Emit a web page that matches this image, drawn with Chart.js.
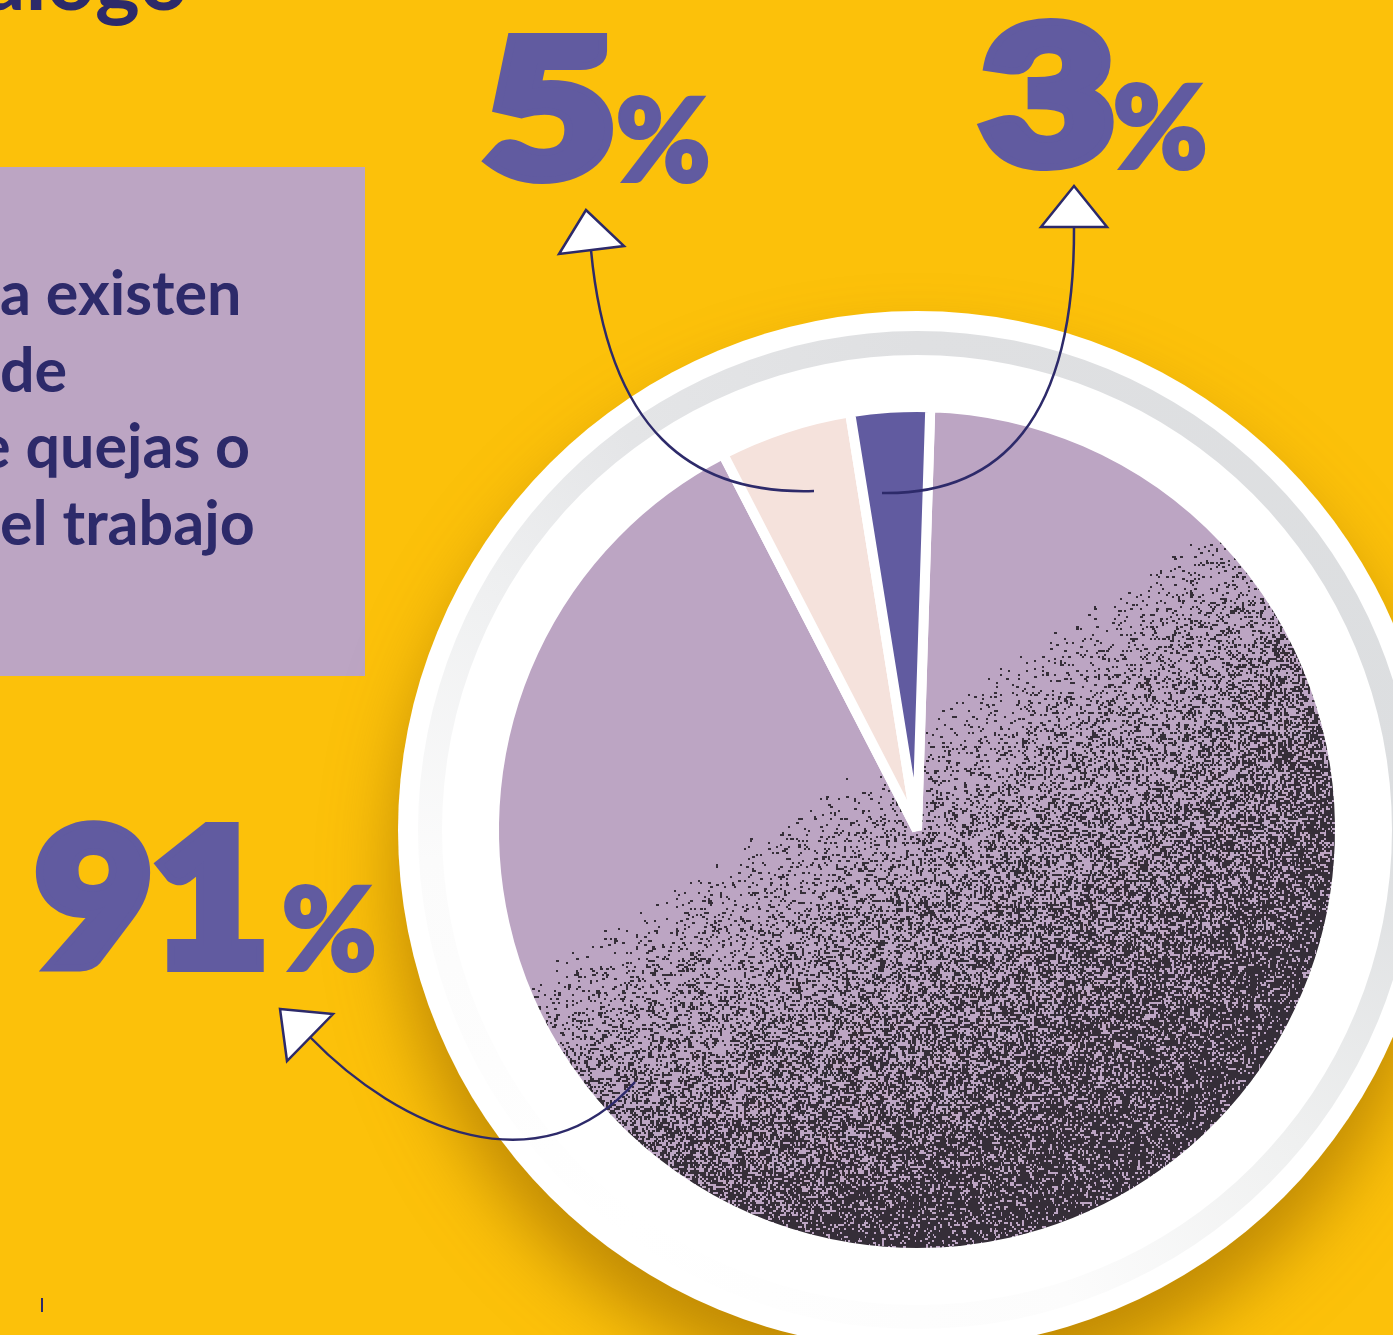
<!DOCTYPE html>
<html lang="es">
<head>
<meta charset="UTF-8">
<title>Mecanismos de quejas en el trabajo</title>
<style>
  html, body { margin: 0; padding: 0; }
  body {
    width: 1393px;
    height: 1335px;
    overflow: hidden;
    position: relative;
    background: #fcc10a;
    font-family: Lato, "Open Sans", sans-serif;
  }
  .caja {
    position: absolute;
    left: 0;
    top: 167px;
    width: 365px;
    height: 509px;
    background: #bca5c3;
  }
  #grafico, #textos {
    position: absolute;
    left: 0;
    top: 0;
  }
  #textos { pointer-events: none; }
  .titulo { font: 700 85px Lato, sans-serif; fill: #2d2a6a; }
  .parrafo { font: 700 61px Lato, sans-serif; fill: #2d2a6a; }
  .cifra {
    font-family: Lato, sans-serif;
    font-weight: 900;
    fill: #615ba0;
    stroke: #615ba0;
    stroke-linejoin: miter;
    paint-order: stroke;
  }
</style>
</head>
<body>
<div class="caja"></div>
<canvas id="grafico" width="1393" height="1335"></canvas>
<svg id="textos" width="1393" height="1335">
  <text class="titulo" x="188" y="10" text-anchor="end">diálogo</text>
  <text class="parrafo" x="0" y="315">a existen</text>
  <text class="parrafo" x="0" y="392">de</text>
  <text class="parrafo" x="-22" y="468">e quejas o</text>
  <text class="parrafo" x="0" y="545">el trabajo</text>
  <g id="cifras"></g>
  <rect x="41" y="1298" width="2" height="14" fill="#2d2a6a"/>
</svg>
<script src="https://cdn.jsdelivr.net/npm/chart.js"></script>
<script>
// datos
const categorias = ['Sí existen', 'No existen', 'No sabe'];
const porcentajes = [91, 5, 3];

// estilo
const colores = ['#bca5c3', '#f5e2dc', '#615ba0'];
const azul = '#2d2a6a';

// posicion de las cifras grandes (numero, %, base)
const cifrasPos = [
  { x: 36, ancho: 232, xp: 282, y: 972 },
  { x: 484, ancho: 132, xp: 616, y: 183 },
  { x: 981, ancho: 134, xp: 1113, y: 170 }
];

// flechas: curva bezier (inicio, control1, control2, fin) y punta
const flechas = [
  { curva: [[635, 1082], [540, 1190], [400, 1130], [310, 1037]], punta: [[280, 1009], [333, 1014], [287, 1061]] },
  { curva: [[814, 491], [690, 495], [608, 430], [591, 250]], punta: [[586, 210], [559, 254], [624, 246]] },
  { curva: [[882, 493], [1000, 495], [1075, 420], [1074, 227]], punta: [[1074, 186], [1041, 227], [1107, 227]] }
];

// cifras grandes
const svgNS = 'http://www.w3.org/2000/svg';
const grupo = document.getElementById('cifras');
porcentajes.forEach((v, i) => {
  const p = cifrasPos[i];
  const num = document.createElementNS(svgNS, 'text');
  num.setAttribute('class', 'cifra');
  num.setAttribute('x', p.x);
  num.setAttribute('y', p.y - 7);
  num.setAttribute('font-size', 186);
  num.setAttribute('stroke-width', 14);
  num.setAttribute('textLength', p.ancho);
  num.setAttribute('lengthAdjust', 'spacingAndGlyphs');
  num.textContent = v;
  grupo.appendChild(num);
  const pct = document.createElementNS(svgNS, 'text');
  pct.setAttribute('class', 'cifra');
  pct.setAttribute('x', p.xp);
  pct.setAttribute('y', p.y - 2);
  pct.setAttribute('font-size', 114);
  pct.setAttribute('stroke-width', 4);
  pct.textContent = '%';
  grupo.appendChild(pct);
});

// grano oscuro del sector grande
function aleatorio(seed) {
  return function () {
    seed |= 0; seed = seed + 0x6D2B79F5 | 0;
    let t = Math.imul(seed ^ seed >>> 15, 1 | seed);
    t = t + Math.imul(t ^ t >>> 7, 61 | t) ^ t;
    return ((t ^ t >>> 14) >>> 0) / 4294967296;
  };
}

const canvas = document.getElementById('grafico');
const ctx = canvas.getContext('2d');

function patronGrano() {
  const off = document.createElement('canvas');
  off.width = 1393;
  off.height = 1335;
  const o = off.getContext('2d');
  o.fillStyle = colores[0];
  o.fillRect(0, 0, off.width, off.height);
  o.fillStyle = '#352e38';
  const r = aleatorio(11);
  for (let y = 400; y < 1270; y += 2) {
    for (let x = 480; x < 1360; x += 2) {
      const d = (x - 540) * 0.555 + (y - 970) * 0.832;
      if (d <= 0) continue;
      const rr = Math.hypot(x - 917, y - 830);
      let p = 0.68 * Math.pow(Math.min(1, d / 400), 0.85);
      p += 0.14 * Math.max(0, (rr - 320) / 100) * Math.min(1, d / 200);
      const q = r();
      if (q < p) {
        o.fillRect(x, y, q < p * 0.3 ? 3 : 2, 2);
      }
    }
  }
  return ctx.createPattern(off, 'no-repeat');
}

const rellenos = colores.slice();
rellenos[0] = patronGrano();

const decoracion = {
  id: 'decoracion',
  beforeDatasetsDraw(chart) {
    const arc = chart.getDatasetMeta(0).data[0];
    const c = chart.ctx;
    const x = arc.x, y = arc.y, r = arc.outerRadius;
    c.save();
    c.shadowColor = 'rgba(150, 100, 0, 0.6)';
    c.shadowBlur = 70;
    c.shadowOffsetY = 45;
    c.beginPath();
    c.arc(x, y, r + 96, 0, Math.PI * 2);
    c.fillStyle = '#ffffff';
    c.fill();
    c.restore();

    const g = c.createConicGradient(-Math.PI / 2, x, y);
    g.addColorStop(0, '#dfe0e2');
    g.addColorStop(0.25, '#dcdee0');
    g.addColorStop(0.36, '#eff0f0');
    g.addColorStop(0.45, '#fcfcfc');
    g.addColorStop(0.6, '#ffffff');
    g.addColorStop(0.74, '#fbfbfb');
    g.addColorStop(0.83, '#eff0f1');
    g.addColorStop(0.9, '#e4e5e7');
    g.addColorStop(1, '#dfe0e2');
    c.save();
    c.beginPath();
    c.arc(x, y, r + 76, 0, Math.PI * 2);
    c.arc(x, y, r + 52, 0, Math.PI * 2, true);
    c.fillStyle = g;
    c.fill();
    c.restore();
  },
  afterDraw(chart) {
    const c = chart.ctx;
    c.save();
    c.strokeStyle = azul;
    c.lineWidth = 2.5;
    flechas.forEach(f => {
      const [a, b, d, e] = f.curva;
      c.beginPath();
      c.moveTo(a[0], a[1]);
      c.bezierCurveTo(b[0], b[1], d[0], d[1], e[0], e[1]);
      c.stroke();
      c.beginPath();
      c.moveTo(f.punta[0][0], f.punta[0][1]);
      c.lineTo(f.punta[1][0], f.punta[1][1]);
      c.lineTo(f.punta[2][0], f.punta[2][1]);
      c.closePath();
      c.fillStyle = '#ffffff';
      c.fill();
      c.lineJoin = 'miter';
      c.stroke();
    });
    c.restore();
  }
};

new Chart(ctx, {
  type: 'pie',
  data: {
    labels: categorias,
    datasets: [{
      data: porcentajes,
      backgroundColor: rellenos,
      borderColor: '#ffffff',
      borderWidth: 10
    }]
  },
  options: {
    responsive: false,
    animation: false,
    events: [],
    rotation: 1.8,
    layout: { padding: { left: 489, top: 402, right: 48, bottom: 77 } },
    plugins: {
      legend: { display: false },
      tooltip: { enabled: false }
    }
  },
  plugins: [decoracion]
});
</script>
</body>
</html>
